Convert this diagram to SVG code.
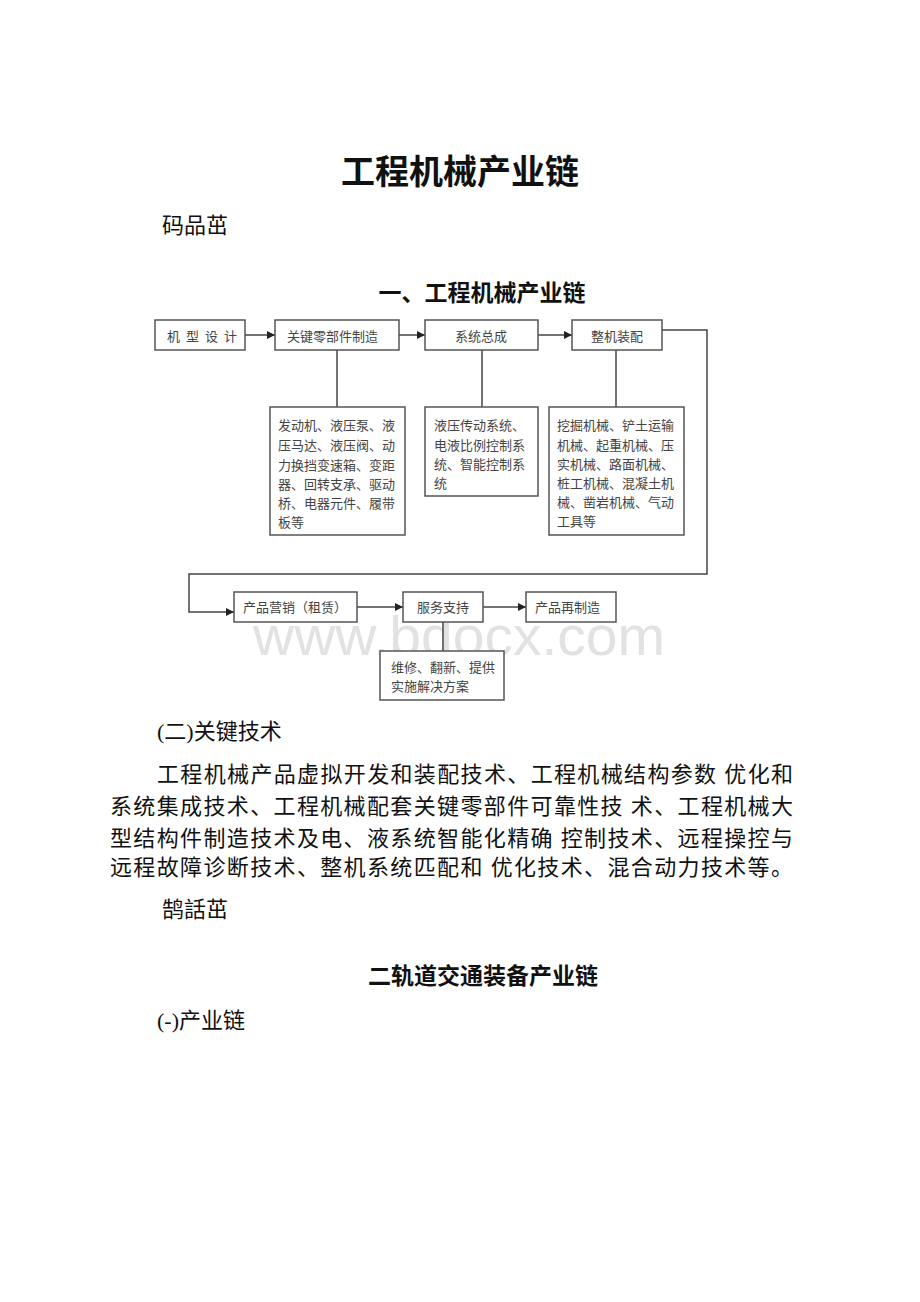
<svg xmlns="http://www.w3.org/2000/svg" width="920" height="1302" viewBox="0 0 920 1302">
<defs>
<style>
.pg{font-family:"Liberation Serif","Noto Sans CJK SC",serif;fill:#111;}
.t{font-family:"Liberation Serif","Noto Sans CJK SC",serif;font-size:13px;fill:#444;}
.b{fill:#fff;stroke:#555;stroke-width:1.5;}
.c{fill:none;stroke:#444;stroke-width:1.5;}
.wm{font-family:"Liberation Sans",Arial,sans-serif;font-size:56px;fill:#e2e2e2;}
</style>
<marker id="ah" viewBox="0 0 10 10" refX="10" refY="5" markerWidth="8" markerHeight="8" markerUnits="userSpaceOnUse" orient="auto">
<path d="M0,0 L10,5 L0,10 z" fill="#222"/>
</marker>
</defs>
<rect width="920" height="1302" fill="#fff"/>

<g id="page-text">
<text class="pg" x="460" y="184" font-size="34" font-weight="bold" text-anchor="middle">工程机械产业链</text>
<text class="pg" x="162" y="233" font-size="22">码品茁</text>
<text class="pg" x="482" y="301" font-size="23" font-weight="bold" text-anchor="middle">一、工程机械产业链</text>
<text class="pg" x="157" y="739" font-size="22">(二)关键技术</text>
<text class="pg" x="157" y="782" font-size="22" textLength="636" lengthAdjust="spacing">工程机械产品虚拟开发和装配技术、工程机械结构参数 优化和</text>
<text class="pg" x="110" y="814" font-size="22" textLength="683" lengthAdjust="spacing">系统集成技术、工程机械配套关键零部件可靠性技 术、工程机械大</text>
<text class="pg" x="110" y="846" font-size="22" textLength="683" lengthAdjust="spacing">型结构件制造技术及电、液系统智能化精确 控制技术、远程操控与</text>
<text class="pg" x="110" y="875" font-size="22" textLength="683" lengthAdjust="spacing">远程故障诊断技术、整机系统匹配和 优化技术、混合动力技术等。</text>
<text class="pg" x="162" y="917" font-size="22">鹄話茁</text>
<text class="pg" x="483" y="984" font-size="23" font-weight="bold" text-anchor="middle">二轨道交通装备产业链</text>
<text class="pg" x="157" y="1028" font-size="22">(-)产业链</text>
</g>

<text class="wm" x="253" y="655" textLength="412" lengthAdjust="spacingAndGlyphs">www.bdocx.com</text>

<g id="connectors">
<line class="c" x1="245" y1="335" x2="275" y2="335" marker-end="url(#ah)"/>
<line class="c" x1="399" y1="335" x2="425" y2="335" marker-end="url(#ah)"/>
<line class="c" x1="538" y1="335" x2="572" y2="335" marker-end="url(#ah)"/>
<line class="c" x1="337" y1="350" x2="337" y2="407"/>
<line class="c" x1="482" y1="350" x2="482" y2="407"/>
<line class="c" x1="616" y1="350" x2="616" y2="407"/>
<polyline class="c" points="662,330 707,330 707,574 189,574 189,612 234,612" marker-end="url(#ah)"/>
<line class="c" x1="357" y1="607" x2="403" y2="607" marker-end="url(#ah)"/>
<line class="c" x1="483" y1="607" x2="526" y2="607" marker-end="url(#ah)"/>
<line class="c" x1="443" y1="622" x2="443" y2="651"/>
</g>

<g id="n-design">
<rect class="b" x="155" y="320" width="90" height="30"/>
<text class="t" x="167" y="341" textLength="70" lengthAdjust="spacing">机 型 设 计</text>
</g>
<g id="n-parts">
<rect class="b" x="275" y="320" width="124" height="30"/>
<text class="t" x="287" y="341">关键零部件制造</text>
</g>
<g id="n-system">
<rect class="b" x="425" y="320" width="113" height="30"/>
<text class="t" x="481" y="341" text-anchor="middle">系统总成</text>
</g>
<g id="n-assembly">
<rect class="b" x="572" y="320" width="90" height="30"/>
<text class="t" x="617" y="341" text-anchor="middle">整机装配</text>
</g>

<g id="n-parts-detail">
<rect class="b" x="270" y="407" width="135" height="128"/>
<text class="t" x="278" y="430">发动机、液压泵、液</text>
<text class="t" x="278" y="450">压马达、液压阀、动</text>
<text class="t" x="278" y="470">力换挡变速箱、变距</text>
<text class="t" x="278" y="489">器、回转支承、驱动</text>
<text class="t" x="278" y="508">桥、电器元件、履带</text>
<text class="t" x="278" y="527">板等</text>
</g>
<g id="n-system-detail">
<rect class="b" x="425" y="407" width="113" height="89"/>
<text class="t" x="434" y="430">液压传动系统、</text>
<text class="t" x="434" y="450">电液比例控制系</text>
<text class="t" x="434" y="469">统、智能控制系</text>
<text class="t" x="434" y="488">统</text>
</g>
<g id="n-assembly-detail">
<rect class="b" x="549" y="407" width="135" height="128"/>
<text class="t" x="557" y="430">挖掘机械、铲土运输</text>
<text class="t" x="557" y="450">机械、起重机械、压</text>
<text class="t" x="557" y="469">实机械、路面机械、</text>
<text class="t" x="557" y="488">桩工机械、混凝土机</text>
<text class="t" x="557" y="507">械、凿岩机械、气动</text>
<text class="t" x="557" y="526">工具等</text>
</g>

<g id="n-marketing">
<rect class="b" x="234" y="592" width="123" height="30"/>
<text class="t" x="243" y="612">产品营销（租赁）</text>
</g>
<g id="n-service">
<rect class="b" x="403" y="592" width="80" height="30"/>
<text class="t" x="443" y="612" text-anchor="middle">服务支持</text>
</g>
<g id="n-reman">
<rect class="b" x="526" y="592" width="90" height="30"/>
<text class="t" x="535" y="612">产品再制造</text>
</g>
<g id="n-service-detail">
<rect class="b" x="380" y="651" width="124" height="49"/>
<text class="t" x="391" y="672">维修、翻新、提供</text>
<text class="t" x="391" y="691">实施解决方案</text>
</g>
</svg>
